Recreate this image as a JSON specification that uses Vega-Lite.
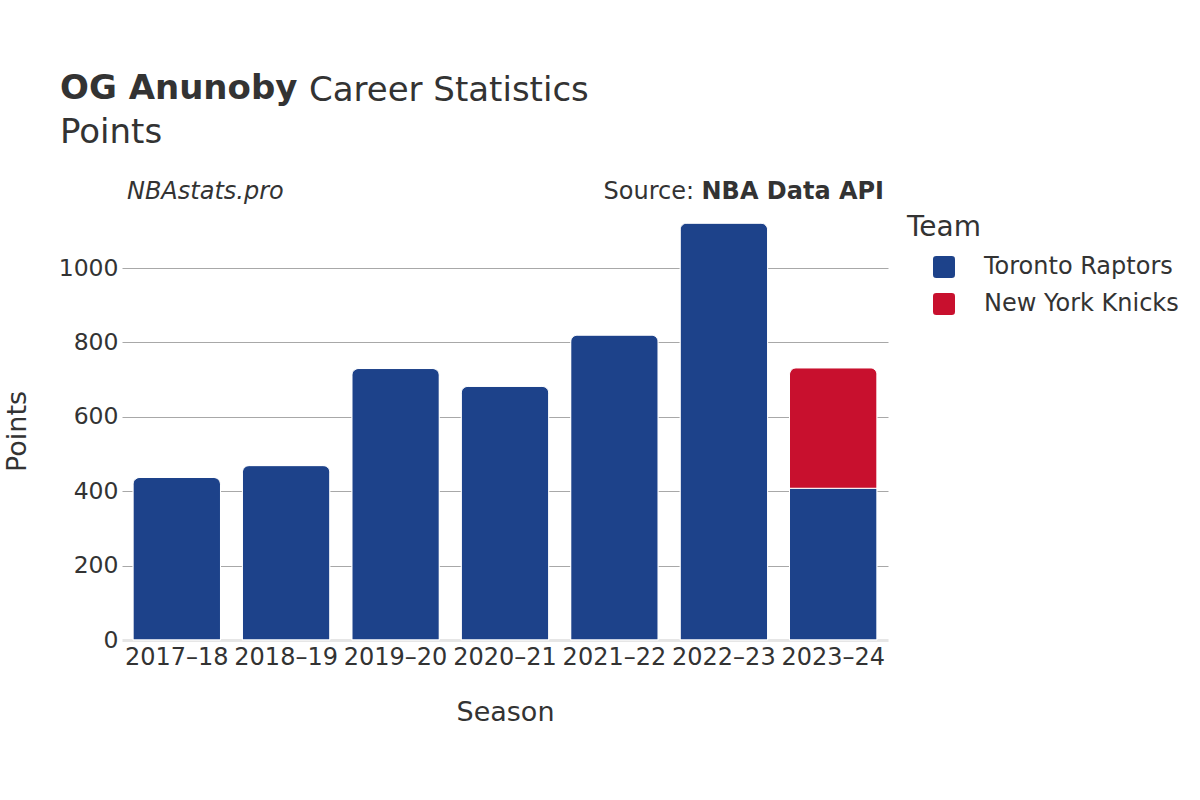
{
  "$schema": "https://vega.github.io/schema/vega-lite/v6.json",
  "width": 766,
  "height": 418,
  "autosize": {"type": "none"},
  "padding": {"left": 122, "top": 222, "right": 312, "bottom": 160},
  "background": "white",
  "title": {
    "text": "OG Anunoby",
    "subtitle": "Points",
    "anchor": "start",
    "frame": "group",
    "dx": -62,
    "fontSize": 34,
    "fontWeight": "bold",
    "font": "DejaVu Sans",
    "color": "#333333",
    "subtitleFont": "DejaVu Sans",
    "subtitleFontSize": 34,
    "subtitleFontWeight": "normal",
    "subtitleColor": "#333333",
    "subtitlePadding": 10,
    "offset": -76
  },
  "config": {
    "view": {"stroke": null},
    "font": "DejaVu Sans",
    "axis": {"labelColor": "#333333", "titleColor": "#333333", "labelFont": "DejaVu Sans", "titleFont": "DejaVu Sans"},
    "legend": {"labelFont": "DejaVu Sans", "titleFont": "DejaVu Sans"}
  },
  "data": {
    "values": [
      {"season": "2017–18", "team": "Toronto Raptors", "points": 437},
      {"season": "2018–19", "team": "Toronto Raptors", "points": 469},
      {"season": "2019–20", "team": "Toronto Raptors", "points": 730},
      {"season": "2020–21", "team": "Toronto Raptors", "points": 682},
      {"season": "2021–22", "team": "Toronto Raptors", "points": 820},
      {"season": "2022–23", "team": "Toronto Raptors", "points": 1121},
      {"season": "2023–24", "team": "Toronto Raptors", "points": 408},
      {"season": "2023–24", "team": "New York Knicks", "points": 324}
    ]
  },
  "layer": [
    {
      "mark": {
        "type": "bar",
        "cornerRadiusTopLeft": 7,
        "cornerRadiusTopRight": 7,
        "stroke": "white",
        "strokeWidth": 1
      },
      "encoding": {
        "x": {
          "field": "season",
          "type": "nominal",
          "title": "Season",
          "scale": {"paddingInner": 0.2, "paddingOuter": 0.1},
          "axis": {
            "labelAngle": 0,
            "labelFontSize": 24,
            "labelPadding": 5,
            "ticks": false,
            "domainColor": "#e6e6e6",
            "domainWidth": 3,
            "titleFontSize": 27,
            "titleFontWeight": "normal",
            "titlePadding": 30
          }
        },
        "y": {
          "field": "points",
          "type": "quantitative",
          "stack": "zero",
          "title": "Points",
          "scale": {"domain": [0, 1124], "nice": false},
          "axis": {
            "values": [0, 200, 400, 600, 800, 1000],
            "format": "d",
            "labelFontSize": 23.5,
            "labelPadding": 4,
            "ticks": false,
            "domain": false,
            "gridColor": {"condition": {"test": "datum.value === 0", "value": "transparent"}, "value": "#a8a8a8"},
            "gridWidth": 1,
            "titleFontSize": 27,
            "titleFontWeight": "normal",
            "titlePadding": 27
          }
        },
        "color": {
          "field": "team",
          "type": "nominal",
          "title": "Team",
          "scale": {"domain": ["Toronto Raptors", "New York Knicks"], "range": ["#1d428a", "#c8102e"]},
          "legend": {
            "orient": "none",
            "legendX": 785,
            "legendY": -8,
            "padding": 0,
            "titleFontSize": 28,
            "titleFontWeight": "normal",
            "titleColor": "#333333",
            "titlePadding": 13,
            "labelFontSize": 24,
            "labelColor": "#333333",
            "labelLimit": 400,
            "symbolType": "M-0.7,-1L0.7,-1Q1,-1 1,-0.7L1,0.7Q1,1 0.7,1L-0.7,1Q-1,1 -1,0.7L-1,-0.7Q-1,-1 -0.7,-1Z",
            "symbolSize": 484,
            "symbolStrokeWidth": 0,
            "symbolOpacity": 1,
            "symbolOffset": 25,
            "labelOffset": 28,
            "rowPadding": 13
          }
        },
        "order": {"field": "team", "sort": "descending"}
      }
    },
    {
      "data": {"values": [{}]},
      "mark": {"type": "text", "align": "left", "baseline": "alphabetic", "fontSize": 34, "color": "#333333", "dx": 176},
      "encoding": {
        "x": {"datum": "2017–18", "bandPosition": 0},
        "y": {"datum": 1449},
        "text": {"value": "Career Statistics"}
      }
    },
    {
      "data": {"values": [{}]},
      "mark": {"type": "text", "align": "left", "baseline": "middle", "fontStyle": "italic", "fontSize": 24, "color": "#333333", "dx": -6},
      "encoding": {
        "x": {"datum": "2017–18", "bandPosition": 0},
        "y": {"datum": 1204},
        "text": {"value": "NBAstats.pro"}
      }
    },
    {
      "data": {"values": [{}]},
      "mark": {"type": "text", "align": "right", "baseline": "middle", "fontWeight": "bold", "fontSize": 24, "color": "#333333", "dx": 7},
      "encoding": {
        "x": {"datum": "2023–24", "bandPosition": 1},
        "y": {"datum": 1204},
        "text": {"value": "NBA Data API"}
      }
    },
    {
      "data": {"values": [{}]},
      "mark": {"type": "text", "align": "right", "baseline": "middle", "fontSize": 24, "color": "#333333", "dx": -183},
      "encoding": {
        "x": {"datum": "2023–24", "bandPosition": 1},
        "y": {"datum": 1204},
        "text": {"value": "Source:"}
      }
    }
  ]
}
